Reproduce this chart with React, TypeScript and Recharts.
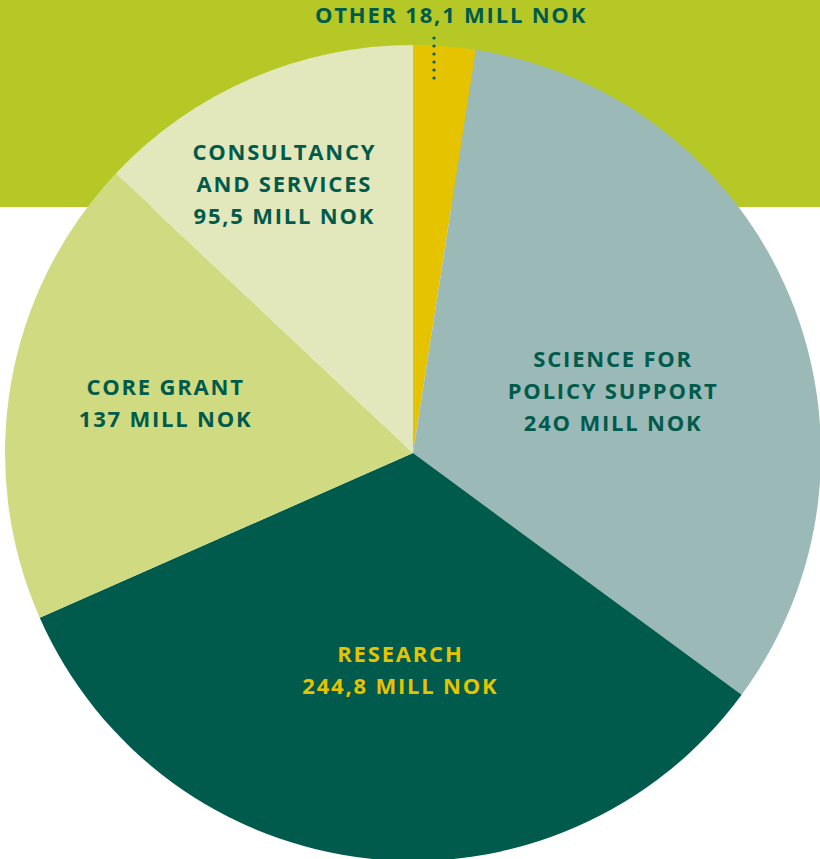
import { PieChart, Pie, Cell } from "recharts"

// income by source, mill NOK
const categories = ["Other", "Science for policy support", "Research", "Core grant", "Consultancy and services"]
const values = [18.1, 240, 244.8, 137, 95.5]
const labelLines = [
  ["OTHER 18,1 MILL NOK"],
  ["SCIENCE FOR", "POLICY SUPPORT", "24O MILL NOK"],
  ["RESEARCH", "244,8 MILL NOK"],
  ["CORE GRANT", "137 MILL NOK"],
  ["CONSULTANCY", "AND SERVICES", "95,5 MILL NOK"]
]

const sliceColors = ["#e6c300", "#9bb9b7", "#005b4c", "#d0da80", "#e3e8bc"]
const textColors = ["#005b4c", "#005b4c", "#e6c300", "#005b4c", "#005b4c"]
// label distance from centre and nudge, per slice
const labelPlace = [
  { r: 0, dx: 0, dy: 0 },
  { r: 210, dx: 6, dy: 17 },
  { r: 216, dx: 11, dy: 1 },
  { r: 252, dx: 1, dy: -8 },
  { r: 299, dx: -10, dy: 4 }
]

const RAD = Math.PI / 180
const LINE_H = 32

function SliceLabel(props: any) {
  const { cx, cy, midAngle, index } = props
  const lines = labelLines[index]
  const textStyle = {
    fontFamily: "'Open Sans', sans-serif",
    fontWeight: 700,
    fontSize: 22,
    letterSpacing: 1.8
  }

  if (index === 0) {
    const dots = [38, 46, 54, 62, 70, 78]
    return (
      <g>
        <text x={451} y={14} textAnchor="middle" dominantBaseline="central" fill={textColors[0]} style={textStyle}>
          {lines[0]}
        </text>
        {dots.map((y) => (
          <circle key={y} cx={434} cy={y} r={1.6} fill="#005b4c" />
        ))}
      </g>
    )
  }

  const p = labelPlace[index]
  const x = cx + p.r * Math.cos(-midAngle * RAD) + p.dx
  const y = cy + p.r * Math.sin(-midAngle * RAD) + p.dy
  const top = y - ((lines.length - 1) * LINE_H) / 2

  return (
    <text x={x} y={top} textAnchor="middle" dominantBaseline="central" fill={textColors[index]} style={textStyle}>
      {lines.map((line, i) => (
        <tspan key={i} x={x} y={top + i * LINE_H}>
          {line}
        </tspan>
      ))}
    </text>
  )
}

export default function App() {
  const data = categories.map((name, i) => ({ name, value: values[i] }))

  return (
    <div style={{ position: "absolute", left: 0, top: 0, width: 820, height: 859, background: "#fff" }}>
      <div style={{ position: "absolute", left: 0, top: 0, width: 820, height: 207, background: "#b5c826" }} />
      <div style={{ position: "absolute", left: 0, top: 0 }}>
        <PieChart width={820} height={859} margin={{ top: 0, right: 0, bottom: 0, left: 0 }}>
          <Pie
            data={data}
            dataKey="value"
            nameKey="name"
            cx={413}
            cy={453}
            outerRadius={408}
            startAngle={90}
            endAngle={-270}
            stroke="none"
            label={SliceLabel}
            labelLine={false}
            isAnimationActive={false}
          >
            {data.map((d, i) => (
              <Cell key={d.name} fill={sliceColors[i]} />
            ))}
          </Pie>
        </PieChart>
      </div>
    </div>
  )
}
